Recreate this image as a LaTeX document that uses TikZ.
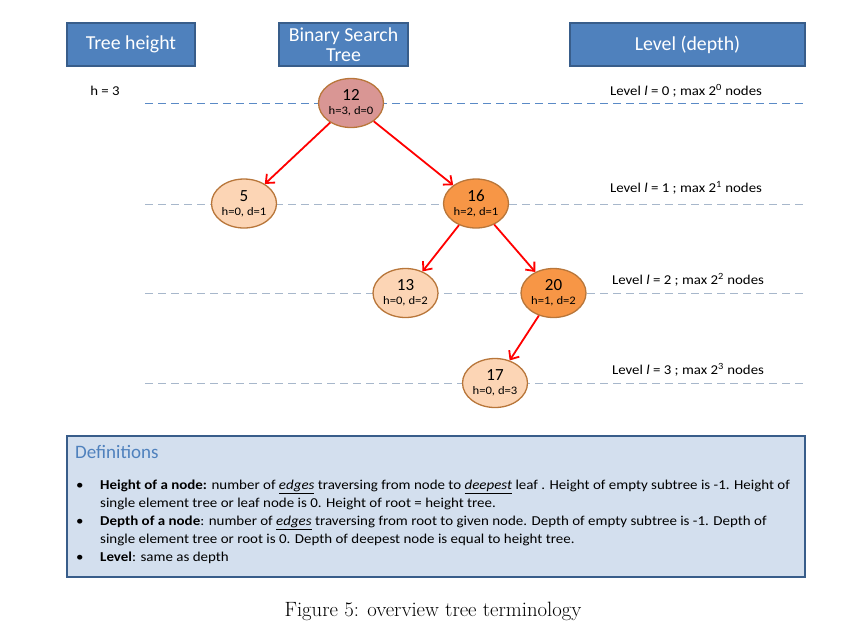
\documentclass[tikz,border=0pt]{standalone}
\usepackage{fontspec}
\setmainfont{Latin Modern Roman}
\newfontfamily\calfont{Carlito}
\newfontfamily\calwide[FakeStretch=1.1]{Carlito}
\usetikzlibrary{shapes.geometric,arrows.meta}
\definecolor{hdrfill}{HTML}{4F81BD}
\definecolor{hdrdraw}{HTML}{385D8A}
\definecolor{lvlzero}{HTML}{5A8AC6}
\definecolor{lvlline}{HTML}{A7B7CB}
\definecolor{rootfill}{HTML}{D99694}
\definecolor{lightfill}{HTML}{FCD5B5}
\definecolor{darkfill}{HTML}{F79646}
\definecolor{nodedraw}{HTML}{B8763A}
\definecolor{deffill}{HTML}{D3DFEE}
\tikzset{
  hdr/.style={draw=hdrdraw, line width=1.2pt, fill=hdrfill, text=white, font=\calfont\fontsize{19.8}{21}\selectfont, inner sep=0pt, align=center},
  tnode/.style={ellipse, draw=nodedraw, line width=1.3pt, minimum width=65pt, minimum height=49pt, inner sep=0pt, align=center, font=\calfont},
  lvl/.style={dash pattern=on 8pt off 5pt, line width=0.9pt, draw=lvlline},
  edge/.style={draw=red, line width=1.8pt, -{Straight Barb[length=7pt,width=12pt,line width=1.8pt]}},
  lbl/.style={font=\calwide\fontsize{13.5}{15}\selectfont, inner sep=0pt}
}
\newcommand{\nd}[2]{{\fontsize{17}{17}\selectfont #1}\\[2pt]{\calwide\fontsize{11.5}{12}\selectfont #2}}
\begin{document}
\begin{tikzpicture}[x=1pt,y=-1pt]
\useasboundingbox (0,0) rectangle (850,633);
% header boxes
\node[hdr, minimum width=128pt, minimum height=43pt] (th) at (131,44.5) {Tree height};
\node[hdr, minimum width=129pt, minimum height=43pt] (bst) at (343.5,44.5) {Binary Search\\[-1pt]Tree};
\node[hdr, minimum width=235pt, minimum height=43pt] (lv) at (687.5,44.5) {Level (depth)};
\node[lbl] (h3) at (105,91) {h = 3};
% level lines
\coordinate (l0a) at (145,103); \coordinate (l0b) at (803,103);
\coordinate (l1a) at (145,204); \coordinate (l1b) at (803,204);
\coordinate (l2a) at (145,293); \coordinate (l2b) at (803,293);
\coordinate (l3a) at (145,383); \coordinate (l3b) at (803,383);
\draw[lvl, draw=lvlzero] (l0a) -- (l0b);
\draw[lvl] (l1a) -- (l1b);
\draw[lvl] (l2a) -- (l2b);
\draw[lvl] (l3a) -- (l3b);
\node[lbl] (t0) at (686,91) {Level \textit{l} = 0 ; max 2\textsuperscript{0} nodes};
\node[lbl] (t1) at (686,188) {Level \textit{l} = 1 ; max 2\textsuperscript{1} nodes};
\node[lbl] (t2) at (688,280) {Level \textit{l} = 2 ; max 2\textsuperscript{2} nodes};
\node[lbl] (t3) at (688,370) {Level \textit{l} = 3 ; max 2\textsuperscript{3} nodes};
% tree nodes
\node[tnode, fill=rootfill] (n12) at (351,103) {\nd{12}{h=3, d=0}};
\node[tnode, fill=lightfill] (n5) at (244,203.5) {\nd{5}{h=0, d=1}};
\node[tnode, fill=darkfill] (n16) at (476,203.5) {\nd{16}{h=2, d=1}};
\node[tnode, fill=lightfill] (n13) at (405.5,293) {\nd{13}{h=0, d=2}};
\node[tnode, fill=darkfill] (n20) at (553.5,293) {\nd{20}{h=1, d=2}};
\node[tnode, fill=lightfill] (n17) at (495,383) {\nd{17}{h=0, d=3}};
\draw[edge] (n12) -- (n5);
\draw[edge] (n12) -- (n16);
\draw[edge] (n16) -- (n13);
\draw[edge] (n16) -- (n20);
\draw[edge] (n20) -- (n17);
% definitions box
\node[draw=hdrdraw, line width=1.5pt, fill=deffill, minimum width=738pt, minimum height=141pt, inner sep=0pt] (defbox) at (436,506.5) {};
\node[anchor=west, inner sep=0pt, text=hdrfill, font=\calfont\fontsize{19}{21}\selectfont] (deft) at (75,452) {Definitions};
\node[anchor=north west, inner sep=0pt, font=\calwide\fontsize{13.6}{18}\selectfont, align=left] (defs) at (76,480) {%
\makebox[24pt][l]{\textbullet}\textbf{Height of a node:} number of \underline{\textit{edges}} traversing from node to \underline{\textit{deepest}} leaf . Height of empty subtree is -1. Height of\\
\hspace*{24pt}single element tree or leaf node is 0. Height of root = height tree.\\
\makebox[24pt][l]{\textbullet}\textbf{Depth of a node}: number of \underline{\textit{edges}} traversing from root to given node. Depth of empty subtree is -1. Depth of\\
\hspace*{24pt}single element tree or root is 0. Depth of deepest node is equal to height tree.\\
\makebox[24pt][l]{\textbullet}\textbf{Level}: same as depth};
% caption
\node[font=\fontsize{20.7}{22}\selectfont, inner sep=0pt] (cap) at (433,611) {Figure 5: overview tree terminology};
\end{tikzpicture}
\end{document}
